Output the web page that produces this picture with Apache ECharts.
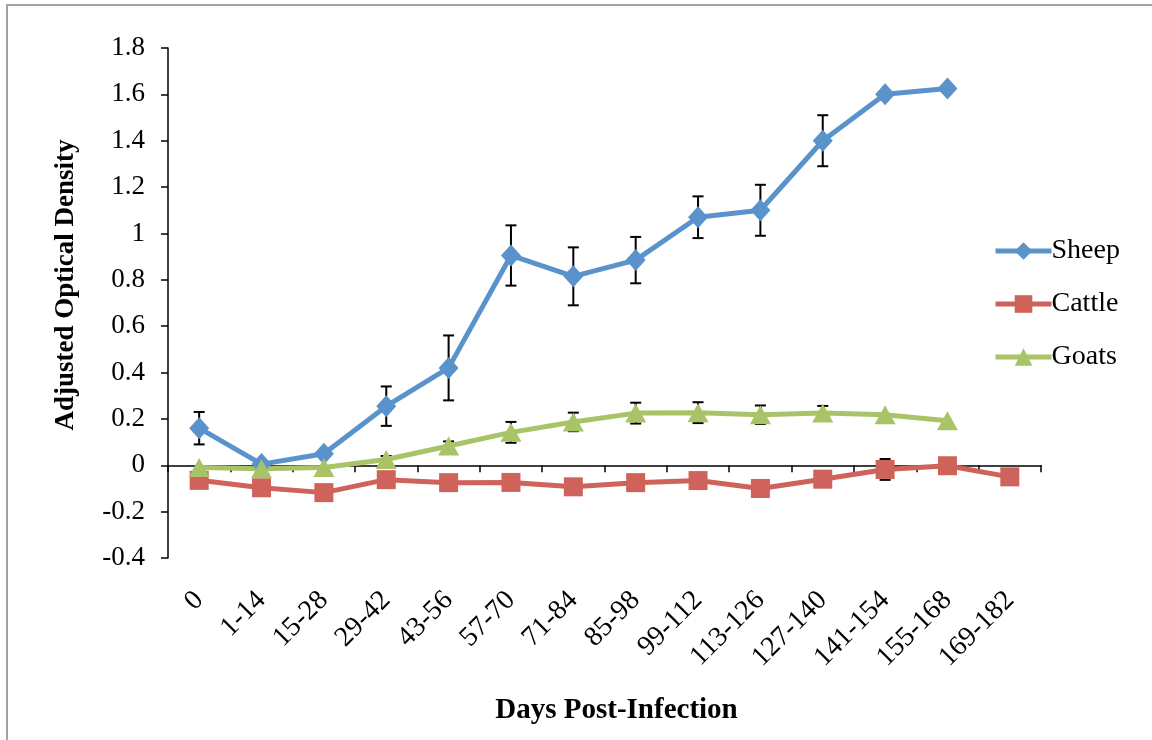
<!DOCTYPE html>
<html>
<head>
<meta charset="utf-8">
<script src="https://cdn.jsdelivr.net/npm/echarts@6/dist/echarts.min.js"></script>
<style>
  html, body { margin: 0; padding: 0; background: #ffffff; }
  #chart { width: 1152px; height: 740px; }
</style>
</head>
<body>
<div id="chart"></div>
<script>
// Antibody response over time (adjusted optical density) per host species
const days = ['0', '1-14', '15-28', '29-42', '43-56', '57-70', '71-84', '85-98',
              '99-112', '113-126', '127-140', '141-154', '155-168', '169-182'];

const sheep    = [0.16, 0.005, 0.05, 0.255, 0.42, 0.905, 0.815, 0.885, 1.07, 1.10, 1.40, 1.60, 1.625, null];
const sheepErr = [0.07, 0, 0, 0.085, 0.14, 0.13, 0.125, 0.10, 0.09, 0.11, 0.11, 0, 0, 0];

const cattle    = [-0.065, -0.097, -0.118, -0.062, -0.075, -0.074, -0.093, -0.075, -0.066, -0.100, -0.060, -0.018, -0.002, -0.050];
const cattleErr = [0, 0, 0, 0, 0, 0, 0, 0, 0, 0, 0, 0.045, 0, 0];

const goats    = [-0.010, -0.015, -0.010, 0.025, 0.083, 0.142, 0.187, 0.225, 0.227, 0.218, 0.226, 0.218, 0.192, null];
const goatsErr = [0, 0, 0, 0.015, 0.02, 0.045, 0.04, 0.045, 0.045, 0.04, 0.03, 0, 0, 0];

const yTicks = { min: -0.4, max: 1.8, step: 0.2 };

const FONT = 'Liberation Serif, Times New Roman, serif';
const COLORS = { sheep: '#5A93CB', cattle: '#CF625B', goats: '#A8C467' };

// rows of [categoryIndex, mean, error] for the whisker series
function errorRows(values, errs) {
  const rows = [];
  values.forEach((v, i) => {
    if (v != null && errs[i] > 0) rows.push([i, v, errs[i]]);
  });
  return rows;
}

function renderWhisker(params, api) {
  const i = api.value(0), v = api.value(1), e = api.value(2);
  const top = api.coord([i, v + e]);
  const bot = api.coord([i, v - e]);
  const half = 5.5;
  const style = { stroke: '#000000', lineWidth: 2 };
  return {
    type: 'group',
    children: [
      { type: 'line', shape: { x1: top[0], y1: top[1], x2: bot[0], y2: bot[1] }, style },
      { type: 'line', shape: { x1: top[0] - half, y1: top[1], x2: top[0] + half, y2: top[1] }, style },
      { type: 'line', shape: { x1: bot[0] - half, y1: bot[1], x2: bot[0] + half, y2: bot[1] }, style }
    ]
  };
}

function whiskerSeries(name, values, errs) {
  return {
    name: name,
    type: 'custom',
    xAxisIndex: 0,
    yAxisIndex: 0,
    renderItem: renderWhisker,
    encode: { x: 0, y: 1 },
    data: errorRows(values, errs),
    z: 1,
    silent: true
  };
}

function lineSeries(name, values, color, symbol, size) {
  return {
    name: name,
    type: 'line',
    data: values,
    symbol: symbol,
    symbolSize: size,
    showAllSymbol: true,
    connectNulls: false,
    color: color,
    lineStyle: { width: 5, color: color },
    itemStyle: { color: color },
    z: 3,
    animation: false
  };
}

const chart = echarts.init(document.getElementById('chart'), null, { renderer: 'canvas' });

chart.setOption({
  backgroundColor: '#ffffff',
  animation: false,
  graphic: [{
    type: 'rect',
    shape: { x: 7, y: 5, width: 1170, height: 760 },
    style: { fill: 'none', stroke: '#a3a3a3', lineWidth: 2 },
    silent: true
  }],
  grid: { left: 168, right: 111, top: 48, bottom: 182, containLabel: false },
  legend: {
    data: ['Sheep', 'Cattle', 'Goats'],
    orient: 'vertical',
    left: 993,
    top: 237,
    padding: 0,
    itemWidth: 56,
    itemHeight: 22,
    itemGap: 25,
    lineStyle: { width: 5 },
    textStyle: { fontFamily: FONT, fontSize: 28, color: '#000000', padding: [0, 0, 0, -5] }
  },
  xAxis: [
    {
      type: 'category',
      data: days,
      position: 'bottom',
      boundaryGap: true,
      axisLine: { show: false, onZero: false },
      axisTick: { show: false },
      axisLabel: {
        rotate: 45,
        margin: 38,
        interval: 0,
        fontFamily: FONT,
        fontSize: 28,
        color: '#000000'
      },
      name: 'Days Post-Infection',
      nameLocation: 'middle',
      nameGap: 138,
      nameTextStyle: { fontFamily: FONT, fontSize: 29, fontWeight: 'bold', color: '#000000', padding: [0, 0, 0, 24] },
      splitLine: { show: false }
    },
    {
      // the category line drawn through y = 0
      type: 'category',
      data: days,
      position: 'bottom',
      boundaryGap: true,
      axisLine: { show: true, onZero: true, lineStyle: { color: '#000000', width: 1.5 } },
      axisTick: { show: true, length: 7, inside: false, lineStyle: { color: '#000000', width: 1.5 } },
      axisLabel: { show: false },
      splitLine: { show: false }
    }
  ],
  yAxis: {
    type: 'value',
    min: yTicks.min,
    max: yTicks.max,
    interval: yTicks.step,
    axisLine: { show: true, onZero: false, lineStyle: { color: '#000000', width: 1.5 } },
    axisTick: { show: true, length: 7, lineStyle: { color: '#000000', width: 1.5 } },
    splitLine: { show: false },
    axisLabel: {
      margin: 23,
      fontFamily: FONT,
      fontSize: 27,
      color: '#000000',
      formatter: v => String(Math.round(v * 10) / 10)
    },
    name: 'Adjusted Optical Density',
    nameLocation: 'middle',
    nameGap: 88,
    nameTextStyle: { fontFamily: FONT, fontSize: 27, fontWeight: 'bold', color: '#000000', padding: [0, 0, 0, 36] }
  },
  series: [
    whiskerSeries('Sheep SE', sheep, sheepErr),
    whiskerSeries('Cattle SE', cattle, cattleErr),
    whiskerSeries('Goats SE', goats, goatsErr),
    lineSeries('Sheep', sheep, COLORS.sheep, 'diamond', [20, 22]),
    lineSeries('Cattle', cattle, COLORS.cattle, 'rect', [19, 19]),
    lineSeries('Goats', goats, COLORS.goats, 'triangle', [21, 19])
  ]
});
</script>
</body>
</html>
